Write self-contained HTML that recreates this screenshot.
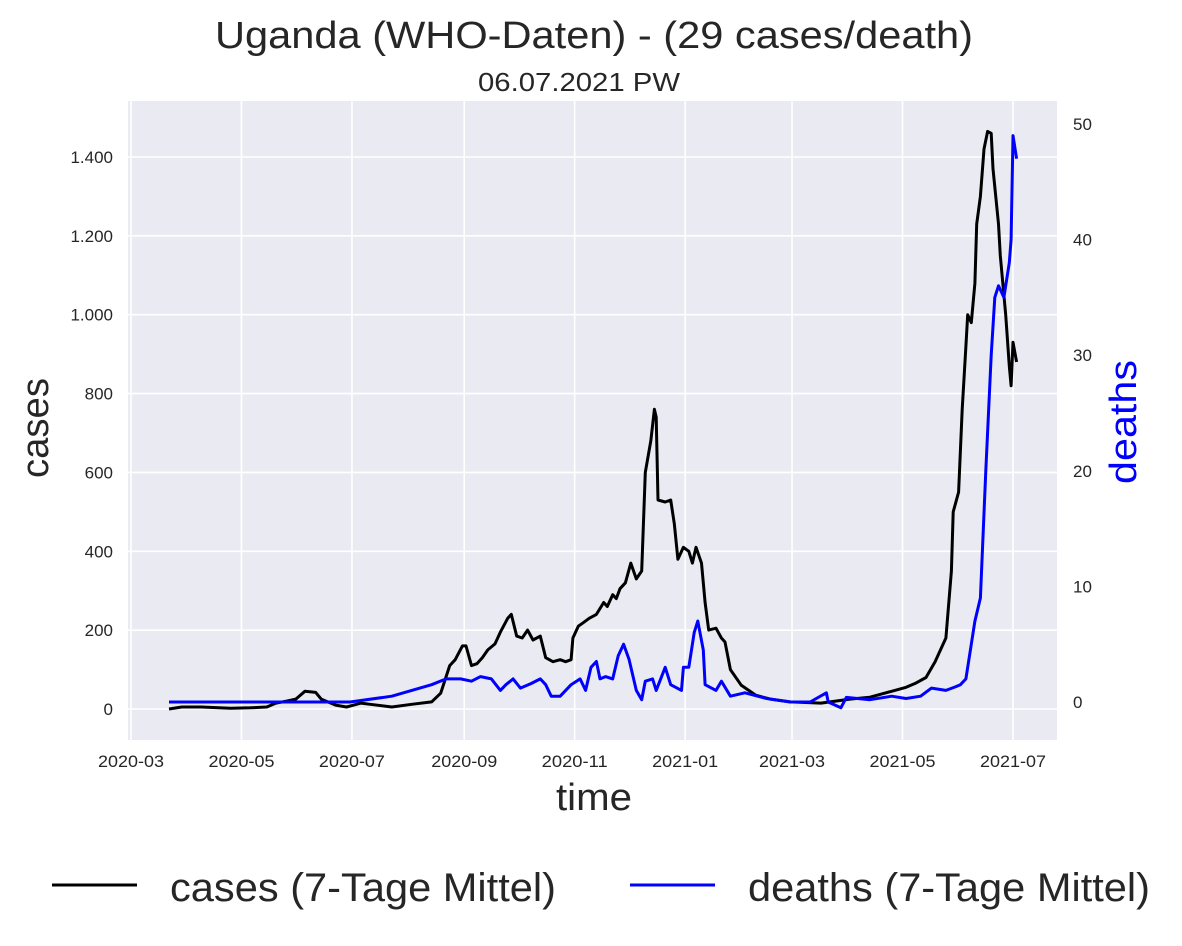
<!DOCTYPE html>
<html><head><meta charset="utf-8"><style>
body{margin:0;background:#fff;}
svg text{font-family:"Liberation Sans",Arial,sans-serif;}
</style></head><body>
<svg id="chart" width="1182" height="941" xmlns="http://www.w3.org/2000/svg">
<rect x="128" y="101" width="929" height="639" fill="#eaeaf2"/>
<g id="grid"></g>
<g id="ticks"></g>
<g id="lines"></g>
<text x="594" y="48" font-size="38" text-anchor="middle" textLength="758" lengthAdjust="spacingAndGlyphs" fill="#262626">Uganda (WHO-Daten) - (29 cases/death)</text>
<text x="579" y="91" font-size="26" text-anchor="middle" textLength="202" lengthAdjust="spacingAndGlyphs" fill="#262626">06.07.2021 PW</text>
<text transform="translate(48,428) rotate(-90)" font-size="38" text-anchor="middle" textLength="100" lengthAdjust="spacingAndGlyphs" fill="#262626">cases</text>
<text transform="translate(1136,422) rotate(-90)" font-size="38" text-anchor="middle" textLength="124" lengthAdjust="spacingAndGlyphs" fill="#0000ff">deaths</text>
<text x="594" y="810" font-size="38" text-anchor="middle" textLength="76" lengthAdjust="spacingAndGlyphs" fill="#262626">time</text>
<g>
<line x1="52" y1="885" x2="137" y2="885" stroke="#000" stroke-width="3"/>
<text x="170" y="901" font-size="40" textLength="386" lengthAdjust="spacingAndGlyphs" fill="#262626">cases (7-Tage Mittel)</text>
<line x1="630" y1="885" x2="715" y2="885" stroke="#0000ff" stroke-width="3"/>
<text x="748" y="901" font-size="40" textLength="402" lengthAdjust="spacingAndGlyphs" fill="#262626">deaths (7-Tage Mittel)</text>
</g>
</svg>
<script>
const xTickLabels=["2020-03","2020-05","2020-07","2020-09","2020-11","2021-01","2021-03","2021-05","2021-07"];
const xTickDays=[0,61,122,184,245,306,365,426,487];
const yTicksCases=[0,200,400,600,800,1000,1200,1400];
const yTicksDeaths=[0,10,20,30,40,50];
const casesDays=[21,28,39,55,66,75,80,86,91,96,102,105,113,119,123,127,132,144,155,166,171,176,179,183,185,188,191,194,197,201,204,208,210,213,216,219,222,226,229,233,237,240,243,244,247,250,253,257,261,263,266,268,270,273,276,279,282,284,287,289,290,291,295,298,300,302,305,308,310,312,315,317,319,323,326,328,331,337,345,353,364,381,397,408,420,428,433,439,444,450,453,454,457,459,461,462,464,466,467,469,471,473,475,476,479,480,483,485,486,487,489];
const casesVals=[0,5,5,2,3,5,15,20,25,45,42,25,10,5,10,15,12,5,12,18,40,110,125,160,160,110,115,130,150,165,195,230,240,185,180,200,175,185,130,120,125,120,125,180,210,220,230,240,270,260,290,280,305,320,370,330,350,600,680,760,740,530,525,530,470,380,410,400,370,410,370,270,200,205,180,170,100,60,35,25,18,15,25,30,45,55,65,80,120,180,350,500,550,760,920,1000,980,1080,1230,1300,1420,1465,1460,1370,1230,1150,1000,870,820,930,880];
const deathsDays=[21,121,144,166,174,182,188,193,199,204,207,211,215,221,226,229,232,237,243,248,251,254,257,259,262,266,269,272,275,279,282,284,288,290,295,298,304,305,308,311,313,316,317,323,326,331,339,351,364,375,384,385,392,395,408,420,428,436,442,450,455,458,461,464,466,469,472,475,477,479,482,485,486,487,489];
const deathsVals=[0,0,0.5,1.5,2,2,1.8,2.2,2,1,1.5,2,1.2,1.6,2,1.5,0.5,0.5,1.5,2,1,3,3.5,2,2.2,2,4,5,3.7,1,0.2,1.8,2,1,3,1.5,1,3,3,6,7,4.5,1.5,1,1.8,0.5,0.8,0.3,0,0,0.8,0,-0.5,0.4,0.2,0.5,0.3,0.5,1.2,1,1.3,1.5,2,5,7,9,20,30,35,36,35,38,40,49,47];
const NS="http://www.w3.org/2000/svg";
const X=d=>131+d*1.811;
const YC=v=>709-v*(552/1400);
const YD=v=>702-v*11.56;
const grid=document.getElementById('grid'),ticks=document.getElementById('ticks'),lines=document.getElementById('lines');
function mk(tag,attrs,parent){const e=document.createElementNS(NS,tag);for(const k in attrs)e.setAttribute(k,attrs[k]);parent.appendChild(e);return e;}
xTickDays.forEach((d,i)=>{
  const gl=mk('line',{x1:X(d),x2:X(d),y1:101,y2:740,stroke:'#fff','stroke-width':1.6},grid);
  
  
  const t=mk('text',{x:X(d),y:767,'font-size':17,'text-anchor':'middle',textLength:66,lengthAdjust:'spacingAndGlyphs',fill:'#262626'},ticks);
  t.textContent=xTickLabels[i];
  
  
});
yTicksCases.forEach(v=>{
  const gl=mk('line',{x1:128,x2:1057,y1:YC(v),y2:YC(v),stroke:'#fff','stroke-width':1.6},grid);
  
  
  const t=mk('text',{x:113,y:YC(v)+6,'font-size':17,'text-anchor':'end',fill:'#262626'},ticks);
  t.textContent=v.toLocaleString('de-DE');
  
  
});
yTicksDeaths.forEach(v=>{
  const t=mk('text',{x:1073,y:YD(v)+6,'font-size':17,'text-anchor':'start',fill:'#262626'},ticks);
  t.textContent=v;
  
  
});
const pc=mk('path',{d:casesDays.map((d,i)=>(i?'L':'M')+X(d).toFixed(1)+','+YC(casesVals[i]).toFixed(1)).join(''),fill:'none',stroke:'#000','stroke-width':3,'stroke-linejoin':'round'},lines);


const pd=mk('path',{d:deathsDays.map((d,i)=>(i?'L':'M')+X(d).toFixed(1)+','+YD(deathsVals[i]).toFixed(1)).join(''),fill:'none',stroke:'#0000ff','stroke-width':3,'stroke-linejoin':'round'},lines);


</script>
</body></html>
